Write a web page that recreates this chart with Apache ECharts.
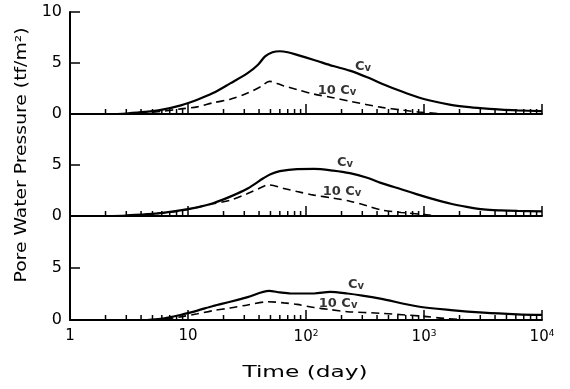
<!DOCTYPE html>
<html>
<head>
<meta charset="utf-8">
<script src="https://cdn.jsdelivr.net/npm/echarts@6/dist/echarts.min.js"></script>
<style>
  html, body { margin: 0; padding: 0; background: #fff; }
  #chart { width: 570px; height: 389px; }
</style>
</head>
<body>
<div id="chart"></div>
<script>
// Pore water pressure (tf/m²) against time (day), three panels, Cv and 10 Cv.

// Top panel
const topCvTime = [2.5, 3, 4.3, 5.9, 8.7, 12, 16.3, 22.8, 32, 39, 45, 52, 60, 70, 84, 117, 170, 235, 330, 445, 650, 890, 1200, 1690, 2300, 3200, 4500, 6200, 10000];
const topCv     = [0, 0.05, 0.2, 0.4, 0.85, 1.4, 2.05, 3.0, 4.0, 4.8, 5.65, 6.05, 6.15, 6.05, 5.8, 5.3, 4.7, 4.25, 3.6, 2.95, 2.2, 1.64, 1.25, 0.9, 0.7, 0.55, 0.42, 0.35, 0.28];
const top10CvTime = [3, 4.3, 5.9, 8.7, 12, 16.3, 22.8, 32, 41.6, 49, 65, 84, 117, 170, 235, 440, 640, 890, 1300];
const top10Cv     = [0, 0.1, 0.25, 0.5, 0.7, 1.1, 1.45, 2.05, 2.7, 3.2, 2.75, 2.4, 1.95, 1.6, 1.25, 0.65, 0.4, 0.2, 0.05];

// Middle panel
const midCvTime = [2, 3, 5, 8.6, 12, 16.3, 22.8, 32, 43.5, 50, 60, 84, 117, 170, 235, 330, 430, 650, 890, 1200, 1690, 2300, 3200, 4500, 6200, 10000];
const midCv     = [0, 0.05, 0.2, 0.55, 0.85, 1.25, 1.9, 2.7, 3.7, 4.1, 4.4, 4.6, 4.62, 4.45, 4.2, 3.75, 3.25, 2.6, 2.1, 1.65, 1.2, 0.9, 0.65, 0.55, 0.5, 0.45];
const mid10CvTime = [2, 3, 5, 8.6, 12, 16.3, 22.8, 32, 40, 48, 65, 84, 117, 170, 235, 330, 430, 640, 890, 1200];
const mid10Cv     = [0, 0.05, 0.2, 0.5, 0.85, 1.2, 1.55, 2.2, 2.7, 3.05, 2.7, 2.4, 2.05, 1.75, 1.45, 1.0, 0.6, 0.35, 0.2, 0.05];

// Bottom panel
const botCvTime = [4.5, 5.9, 7, 8.6, 12, 16.3, 22.8, 32, 48.6, 60, 74, 117, 160, 224, 300, 426, 890, 1690, 3200, 6200, 10000];
const botCv     = [0, 0.1, 0.25, 0.48, 0.9, 1.35, 1.75, 2.2, 2.8, 2.65, 2.55, 2.55, 2.7, 2.55, 2.35, 2.05, 1.3, 0.95, 0.7, 0.55, 0.5];
const bot10CvTime = [5, 7, 8.6, 12, 16.3, 22.8, 32, 48, 65, 84, 117, 160, 224, 426, 1000, 1500, 2200];
const bot10Cv     = [0, 0.15, 0.3, 0.6, 0.9, 1.15, 1.45, 1.75, 1.65, 1.5, 1.2, 1.0, 0.8, 0.65, 0.35, 0.15, 0.02];

// Curve labels: [time, pressure, text]
const topLabels = [[304, 4.6, 'Cv'], [183, 2.25, '10 Cv']];
const midLabels = [[214, 5.2, 'Cv'], [202, 2.35, '10 Cv']];
const botLabels = [[265, 3.37, 'Cv'], [187, 1.55, '10 Cv']];

// Log tick marks along each zero line (decade marks are the long ones)
const decadeTicks = [10, 100, 1000, 10000];
const minorTicks = [2, 3, 4, 5, 6, 7, 8, 9,
                    20, 30, 40, 50, 60, 70, 80, 90,
                    200, 300, 400, 500, 600, 700, 800, 900,
                    2000, 3000, 4000, 5000, 6000, 7000, 8000, 9000];

// Axis tick labels
const xTickLabels = { 1: '1', 10: '10', 100: '10{s|2}', 1000: '10{s|3}', 10000: '10{s|4}' };
const yTickLabelsTop = [0, 5, 10];
const yTickLabelsLower = [0, 5];

const FONT = 'DejaVu Sans';
const chart = echarts.init(document.getElementById('chart'));

const grids = [
  { left: 70, right: 28, top: 12, height: 102 },
  { left: 70, right: 28, top: 114, height: 102 },
  { left: 70, right: 28, top: 216, height: 104 }
];

function xAxisFor(i) {
  return {
    type: 'log', logBase: 10, min: 1, max: 10000, gridIndex: i,
    axisLine: { show: true, lineStyle: { color: '#000', width: 2 } },
    axisTick: { show: false },
    splitLine: { show: false },
    axisLabel: {
      show: i === 2, margin: 9, color: '#000', fontFamily: FONT, fontSize: 15,
      formatter: v => xTickLabels[Math.round(v)] || '',
      rich: { s: { fontSize: 9, fontFamily: FONT, color: '#000', verticalAlign: 'top', padding: [0, 0, 8, 0] } }
    }
  };
}

function yAxisFor(i) {
  const labels = i === 0 ? yTickLabelsTop : yTickLabelsLower;
  return {
    type: 'value', min: 0, max: 10, interval: 5, gridIndex: i,
    axisLine: { show: true, lineStyle: { color: '#000', width: 2 } },
    axisTick: { show: true, inside: true, length: 10, lineStyle: { color: '#000', width: 1.5 },
                customValues: i === 0 ? [5, 10] : [5] },
    splitLine: { show: false },
    axisLabel: { color: '#000', fontFamily: FONT, fontSize: 16, margin: 8, customValues: labels }
  };
}

function curve(i, times, values, dashed) {
  return {
    type: 'line', xAxisIndex: i, yAxisIndex: i,
    data: times.map((t, k) => [t, values[k]]),
    showSymbol: false, smooth: 0.3, silent: true,
    lineStyle: { color: '#000', width: dashed ? 1.6 : 2.2, type: dashed ? [8, 5] : 'solid' },
    z: 3
  };
}

function ticks(i) {
  const data = decadeTicks.map(t => [t, 1]).concat(minorTicks.map(t => [t, 0]));
  return {
    type: 'custom', xAxisIndex: i, yAxisIndex: i, silent: true, clip: false,
    encode: { x: 0, y: 1 },
    data: data,
    renderItem: (params, api) => {
      const p = api.coord([api.value(0), 0]);
      const h = api.value(1) ? 10 : 5;
      return { type: 'line', shape: { x1: p[0], y1: p[1], x2: p[0], y2: p[1] - h },
               style: { stroke: '#000', lineWidth: 1.5 } };
    },
    z: 4
  };
}

function labels(i, items) {
  return {
    type: 'scatter', xAxisIndex: i, yAxisIndex: i, silent: true,
    symbolSize: 0,
    data: items.map(d => ({ value: [d[0], d[1]], name: d[2] })),
    label: {
      show: true, position: 'inside', color: '#000', fontFamily: FONT, fontSize: 13, fontWeight: 'bold',
      formatter: p => p.name.replace('Cv', 'C{v|v}'),
      rich: { v: { fontSize: 10, fontFamily: FONT, fontWeight: 'bold', color: '#000', verticalAlign: 'bottom' } }
    },
    z: 5
  };
}

chart.setOption({
  animation: false,
  backgroundColor: '#fff',
  grid: grids,
  xAxis: [xAxisFor(0), xAxisFor(1), xAxisFor(2)],
  yAxis: [yAxisFor(0), yAxisFor(1), yAxisFor(2)],
  graphic: [
    // wide lettering for the axis titles
    { type: 'text', x: 22, y: 155, rotation: Math.PI / 2, scaleX: 1.25,
      style: { text: 'Pore Water Pressure (tf/m²)', font: '15px "DejaVu Sans"', fill: '#000',
               align: 'center', verticalAlign: 'middle' } },
    { type: 'text', x: 305, y: 373, scaleX: 1.55,
      style: { text: 'Time (day)', font: '15px "DejaVu Sans"', fill: '#000',
               align: 'center', verticalAlign: 'middle' } }
  ],
  series: [
    curve(0, topCvTime, topCv, false), curve(0, top10CvTime, top10Cv, true),
    curve(1, midCvTime, midCv, false), curve(1, mid10CvTime, mid10Cv, true),
    curve(2, botCvTime, botCv, false), curve(2, bot10CvTime, bot10Cv, true),
    ticks(0), ticks(1), ticks(2),
    labels(0, topLabels), labels(1, midLabels), labels(2, botLabels)
  ]
});
</script>
</body>
</html>
